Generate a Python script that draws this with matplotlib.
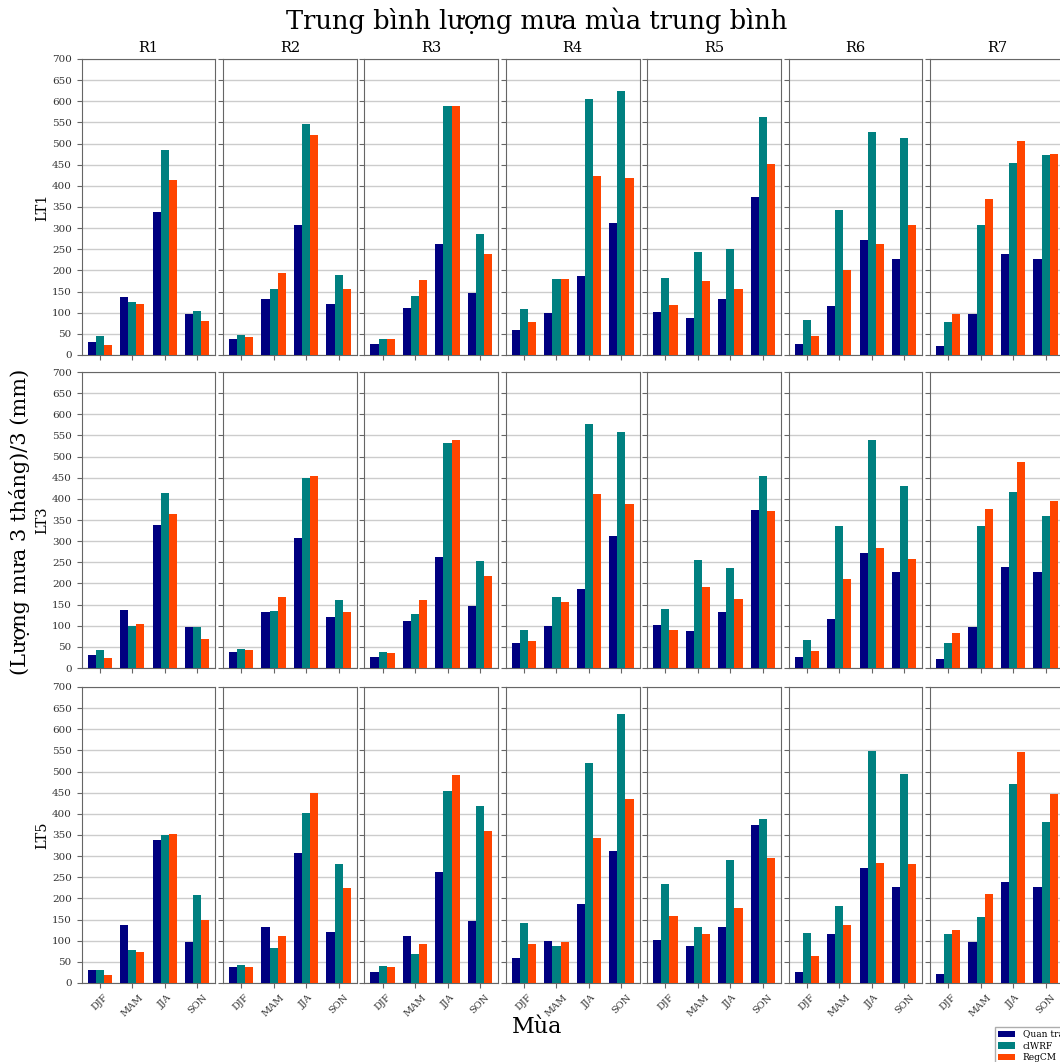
# Seasonal mean rainfall: observations vs clWRF vs RegCM, by region and lead time

import numpy as np
import matplotlib
matplotlib.use("Agg")
import matplotlib.pyplot as plt

plt.rcParams["font.family"] = ["DejaVu Serif"]

seasons = ["DJF", "MAM", "JJA", "SON"]
regions = ["R1", "R2", "R3", "R4", "R5", "R6", "R7"]
lead_times = ["LT1", "LT3", "LT5"]
series_names = ["Quan trắc", "clWRF", "RegCM"]
colors = ["navy", "teal", "orangered"]

# observations (same for every lead time), one row per region: DJF, MAM, JJA, SON
obs = [
    [31, 136, 339, 98],
    [38, 133, 307, 120],
    [27, 112, 262, 146],
    [60, 100, 187, 313],
    [102, 88, 132, 373],
    [25, 116, 272, 226],
    [22, 96, 239, 227],
]

wrf_lt1 = [
    [44, 125, 485, 105],
    [47, 157, 546, 189],
    [37, 140, 590, 286],
    [108, 179, 605, 625],
    [182, 244, 250, 563],
    [83, 342, 527, 512],
    [79, 307, 454, 473],
]
regcm_lt1 = [
    [24, 120, 414, 81],
    [42, 193, 520, 155],
    [39, 177, 590, 239],
    [77, 180, 423, 419],
    [119, 175, 157, 452],
    [45, 201, 262, 307],
    [96, 369, 507, 476],
]

wrf_lt3 = [
    [43, 100, 413, 98],
    [46, 134, 449, 161],
    [37, 127, 531, 252],
    [91, 169, 577, 558],
    [139, 255, 237, 454],
    [66, 335, 540, 430],
    [60, 335, 416, 360],
]
regcm_lt3 = [
    [24, 103, 365, 69],
    [42, 168, 455, 133],
    [36, 160, 540, 217],
    [65, 157, 411, 387],
    [89, 192, 163, 372],
    [40, 211, 283, 257],
    [82, 376, 488, 396],
]

wrf_lt5 = [
    [31, 77, 351, 207],
    [43, 83, 402, 281],
    [41, 68, 454, 418],
    [142, 88, 520, 636],
    [234, 133, 290, 387],
    [119, 182, 549, 495],
    [115, 155, 471, 380],
]
regcm_lt5 = [
    [18, 74, 352, 150],
    [37, 111, 449, 224],
    [39, 92, 493, 359],
    [92, 98, 343, 434],
    [158, 117, 177, 295],
    [64, 136, 283, 282],
    [126, 210, 546, 448],
]

wrf = [wrf_lt1, wrf_lt3, wrf_lt5]
regcm = [regcm_lt1, regcm_lt3, regcm_lt5]

W, H = 1060, 1062
fig = plt.figure(figsize=(W / 100, H / 100), dpi=100)

col_left = 81.5
col_step = 141.4
ax_w = 134
row_tops = [59, 372, 687]
ax_h = 296

x = np.arange(len(seasons))
bw = 0.25

for r, lt in enumerate(lead_times):
    for c, reg in enumerate(regions):
        left = (col_left + c * col_step) / W
        bottom = 1 - (row_tops[r] + ax_h) / H
        ax = fig.add_axes([left, bottom, ax_w / W, ax_h / H])
        vals = [obs[c], wrf[r][c], regcm[r][c]]
        for k in range(3):
            ax.bar(x + (k - 1) * bw, vals[k], bw, color=colors[k],
                   label=series_names[k], zorder=3)
        ax.set_ylim(0, 700)
        ax.set_yticks(np.arange(0, 701, 50))
        ax.grid(axis="y", color="#cccccc", linewidth=1, zorder=0)
        ax.set_xticks(x)
        for s in ax.spines.values():
            s.set_color("#666666")
        ax.tick_params(colors="#666666", labelcolor="#333333", labelsize=7.5)
        if r == len(lead_times) - 1:
            ax.set_xticklabels(seasons, rotation=45, fontsize=7)
        else:
            ax.set_xticklabels([])
        if c == 0:
            ax.set_ylabel(lt, fontsize=10.5, labelpad=2)
        else:
            ax.set_yticklabels([])
        if r == 0:
            ax.set_title(reg, fontsize=10.5, pad=5)

fig.text(537 / W, 1 - 21 / H, "Trung bình lượng mưa mùa trung bình",
         ha="center", va="center", fontsize=18.5)
fig.text(537 / W, 1 - 1027 / H, "Mùa", ha="center", va="center", fontsize=16)
fig.text(20 / W, 1 - 522 / H, "(Lượng mưa 3 tháng)/3 (mm)", rotation=90,
         ha="center", va="center", fontsize=15)

handles, labels = fig.axes[-1].get_legend_handles_labels()
fig.legend(handles, labels, loc="upper left",
           bbox_to_anchor=(990 / W, 1 - 1022 / H), fontsize=6.5,
           frameon=True, fancybox=False, edgecolor="#999999",
           borderpad=0.35, labelspacing=0.3, handlelength=1.9,
           handletextpad=0.9)

fig.savefig("out.png", dpi=100)
